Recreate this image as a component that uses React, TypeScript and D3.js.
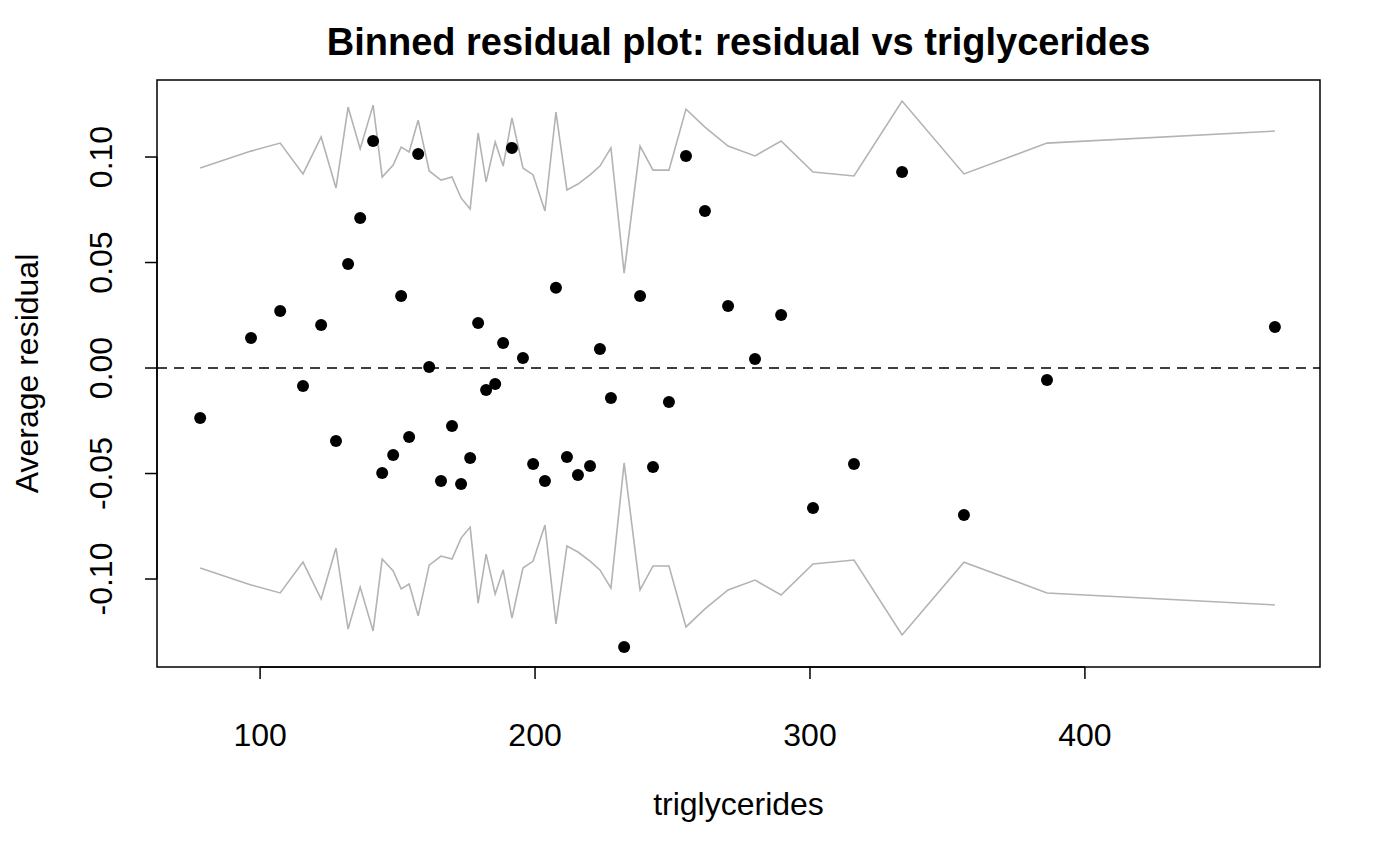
import React, { useRef, useEffect } from "react";
import * as d3 from "d3";

// bin means (triglycerides) and average residuals
const binX = [
  78.2, 96.7, 107.3, 115.6, 122.2, 127.6, 132, 136.4, 141.1, 144.4, 148.4, 151.3,
  154.2, 157.5, 161.5, 165.8, 169.8, 173.1, 176.4, 179.3, 182.2, 185.5, 188.4, 191.6,
  195.6, 199.3, 203.6, 207.6, 211.6, 215.6, 220, 223.6, 227.6, 232.4, 238.2, 242.9,
  248.7, 254.9, 261.8, 270.2, 280, 289.5, 301.1, 316, 333.5, 356, 386.2, 469.1,
];
const avgResidual = [
  -0.0237, 0.0142, 0.027, -0.0085, 0.0204, -0.0346, 0.0493, 0.0711, 0.1076, -0.0498,
  -0.0412, 0.0341, -0.0327, 0.1014, 0.0005, -0.0536, -0.0275, -0.055, -0.0427, 0.0213,
  -0.0104, -0.0076, 0.0118, 0.1043, 0.0047, -0.0455, -0.0536, 0.038, -0.0422, -0.0507,
  -0.0464, 0.009, -0.0142, -0.1322, 0.0341, -0.0469, -0.0161, 0.1005, 0.0744, 0.0294,
  0.0043, 0.0251, -0.0664, -0.0455, 0.0929, -0.0697, -0.0057, 0.0194,
];
// 2 SE bounds (symmetric)
const bound2se = [
  0.0948, 0.1028, 0.1066, 0.092, 0.1095, 0.0853, 0.1237, 0.1038, 0.1246, 0.0905,
  0.0962, 0.1047, 0.1024, 0.1175, 0.0934, 0.0891, 0.0905, 0.0806, 0.0754, 0.1114,
  0.0882, 0.1071, 0.0957, 0.1185, 0.0948, 0.0915, 0.0744, 0.1213, 0.0844, 0.0872,
  0.0915, 0.0957, 0.1043, 0.045, 0.1052, 0.0938, 0.0938, 0.1227, 0.1142, 0.1052,
  0.1005, 0.1076, 0.0929, 0.091, 0.1265, 0.092, 0.1066, 0.1123,
];
const xTicks = [100, 200, 300, 400];
const yTicks = [-0.1, -0.05, 0, 0.05, 0.1];

const W = 1400;
const H = 865;
const box = { left: 157, right: 1320, top: 80, bottom: 667 };
const font = "'Liberation Sans', Arial, sans-serif";

export default function App() {
  const ref = useRef<SVGSVGElement | null>(null);

  useEffect(() => {
    const svg = d3.select(ref.current);
    svg.selectAll("*").remove();

    const x = d3.scaleLinear().domain([62.5, 485.5]).range([box.left, box.right]);
    const y = d3.scaleLinear().domain([-0.1417, 0.1365]).range([box.bottom, box.top]);

    svg.append("rect").attr("width", W).attr("height", H).attr("fill", "white");

    const up = binX.map((v, i) => [v, bound2se[i]] as [number, number]);
    const lo = binX.map((v, i) => [v, -bound2se[i]] as [number, number]);
    const line = d3
      .line<[number, number]>()
      .x((d) => x(d[0]))
      .y((d) => y(d[1]));
    [up, lo].forEach((d) =>
      svg.append("path").attr("d", line(d)).attr("fill", "none").attr("stroke", "#b3b3b3").attr("stroke-width", 1.6)
    );

    svg
      .append("line")
      .attr("x1", box.left)
      .attr("x2", box.right)
      .attr("y1", y(0))
      .attr("y2", y(0))
      .attr("stroke", "black")
      .attr("stroke-width", 1.6)
      .attr("stroke-dasharray", "10,7");

    svg
      .selectAll("circle")
      .data(binX)
      .join("circle")
      .attr("cx", (d) => x(d))
      .attr("cy", (_, i) => y(avgResidual[i]))
      .attr("r", 6)
      .attr("fill", "black");

    svg
      .append("rect")
      .attr("x", box.left)
      .attr("y", box.top)
      .attr("width", box.right - box.left)
      .attr("height", box.bottom - box.top)
      .attr("fill", "none")
      .attr("stroke", "black")
      .attr("stroke-width", 1.5);

    // x axis
    const xa = svg.append("g");
    xa.append("line")
      .attr("x1", x(100)).attr("x2", x(400))
      .attr("y1", box.bottom).attr("y2", box.bottom)
      .attr("stroke", "black").attr("stroke-width", 1.5);
    xTicks.forEach((t) => {
      xa.append("line")
        .attr("x1", x(t)).attr("x2", x(t))
        .attr("y1", box.bottom).attr("y2", box.bottom + 12)
        .attr("stroke", "black").attr("stroke-width", 1.5);
      xa.append("text")
        .attr("x", x(t)).attr("y", 746)
        .attr("text-anchor", "middle")
        .style("font", `32px ${font}`)
        .text(t);
    });

    // y axis
    const ya = svg.append("g");
    ya.append("line")
      .attr("x1", box.left).attr("x2", box.left)
      .attr("y1", y(-0.1)).attr("y2", y(0.1))
      .attr("stroke", "black").attr("stroke-width", 1.5);
    yTicks.forEach((t) => {
      ya.append("line")
        .attr("x1", box.left - 12).attr("x2", box.left)
        .attr("y1", y(t)).attr("y2", y(t))
        .attr("stroke", "black").attr("stroke-width", 1.5);
      ya.append("text")
        .attr("transform", `translate(112,${y(t)}) rotate(-90)`)
        .attr("text-anchor", "middle")
        .style("font", `32px ${font}`)
        .text(d3.format(".2f")(t).replace("−", "-"));
    });

    svg.append("text")
      .attr("x", (box.left + box.right) / 2).attr("y", 55)
      .attr("text-anchor", "middle")
      .style("font", `bold 38px ${font}`)
      .text("Binned residual plot: residual vs triglycerides");
    svg.append("text")
      .attr("x", (box.left + box.right) / 2).attr("y", 815)
      .attr("text-anchor", "middle")
      .style("font", `32px ${font}`)
      .text("triglycerides");
    svg.append("text")
      .attr("transform", `translate(38,${(box.top + box.bottom) / 2}) rotate(-90)`)
      .attr("text-anchor", "middle")
      .style("font", `32px ${font}`)
      .text("Average residual");
  }, []);

  return (
    <svg
      ref={ref}
      width={W}
      height={H}
      style={{ position: "absolute", left: 0, top: 0, display: "block" }}
    />
  );
}
